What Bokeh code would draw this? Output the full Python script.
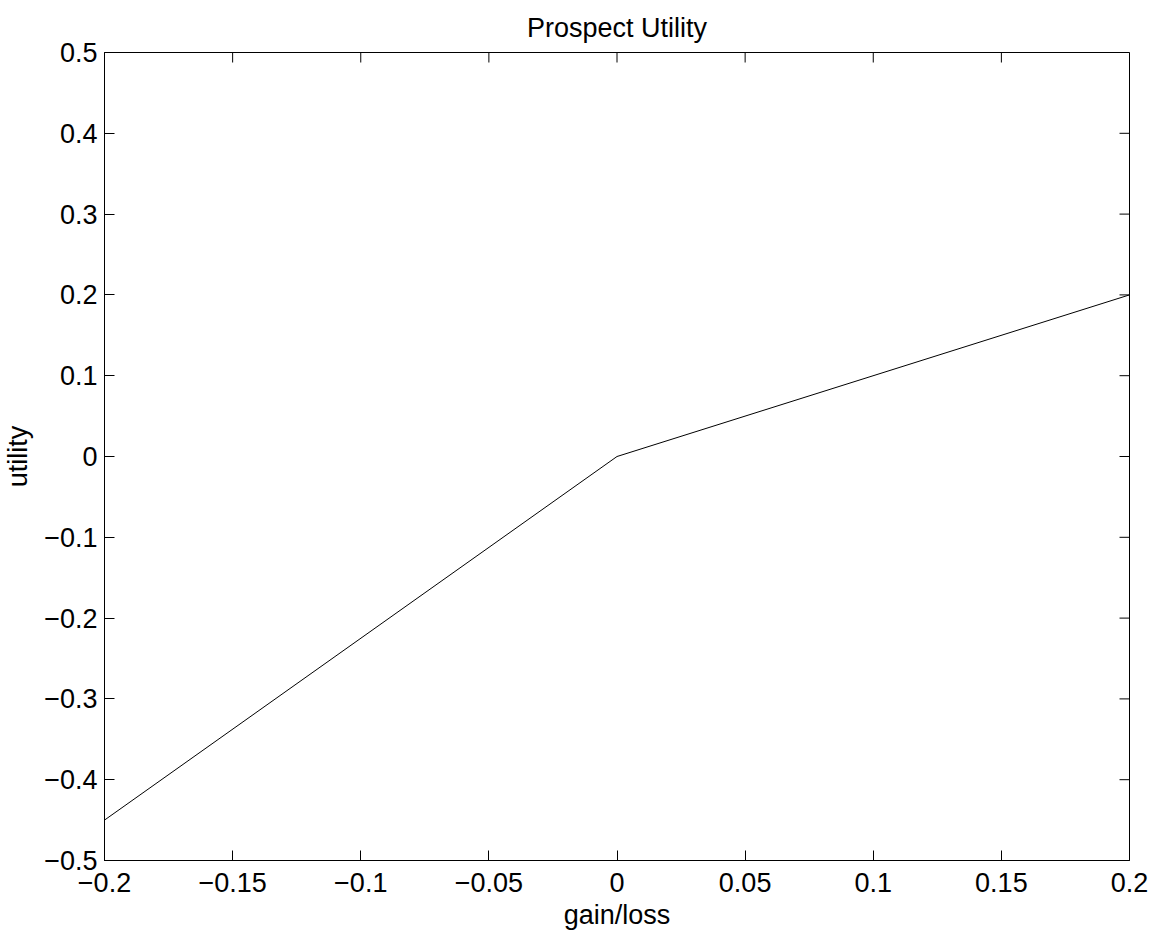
import math
from bokeh.plotting import figure
from bokeh.models import Range1d, FixedTicker
from bokeh.embed import file_html
from bokeh.resources import INLINE

# Data
gain_loss = [-0.2, 0.0, 0.2]
utility = [-0.45, 0.0, 0.2]

x_ticks = [-0.2, -0.15, -0.1, -0.05, 0.0, 0.05, 0.1, 0.15, 0.2]
x_tick_labels = ["\u22120.2", "\u22120.15", "\u22120.1", "\u22120.05", "0", "0.05", "0.1", "0.15", "0.2"]
y_ticks = [-0.5, -0.4, -0.3, -0.2, -0.1, 0.0, 0.1, 0.2, 0.3, 0.4, 0.5]
y_tick_labels = ["\u22120.5", "\u22120.4", "\u22120.3", "\u22120.2", "\u22120.1", "0", "0.1", "0.2", "0.3", "0.4", "0.5"]
x_lim = (-0.2, 0.2)
y_lim = (-0.5, 0.5)

FONT = "Liberation Sans"
TICK_SIZE = "27px"
LABEL_SIZE = "27px"

p = figure(width=1155, height=932,
           x_range=Range1d(*x_lim), y_range=Range1d(*y_lim),
           output_backend="svg", toolbar_location=None,
           min_border_left=102, min_border_right=26, min_border_top=52, min_border_bottom=71)

p.title.text = "Prospect Utility"
p.title.align = "center"
p.title.text_font = FONT
p.title.text_font_style = "normal"
p.title.text_font_size = LABEL_SIZE
p.title.text_color = "black"
p.title.standoff = 19

p.xgrid.visible = False
p.ygrid.visible = False
p.outline_line_color = "black"
p.outline_line_width = 1

p.line(gain_loss, utility, line_color="black", line_width=1)

# inward ticks on the top and right edges (mirroring the bottom/left axes)
p.ray(x=x_ticks, y=[y_lim[1]] * len(x_ticks), length=10, length_units="screen",
      angle=-math.pi / 2, line_color="black", line_width=1)
p.ray(x=[x_lim[1]] * len(y_ticks), y=y_ticks, length=10, length_units="screen",
      angle=math.pi, line_color="black", line_width=1)

def style(ax, ticks, labels):
    ax.ticker = FixedTicker(ticks=ticks)
    ax.minor_tick_line_color = None
    ax.major_tick_in = 10
    ax.major_tick_out = 0
    ax.major_tick_line_color = "black"
    ax.axis_line_color = "black"
    ax.axis_line_width = 1
    ax.major_label_overrides = dict(zip(ticks, labels))
    ax.major_label_text_font = FONT
    ax.major_label_text_font_size = TICK_SIZE
    ax.major_label_text_color = "black"
    ax.axis_label_text_font = FONT
    ax.axis_label_text_font_size = LABEL_SIZE
    ax.axis_label_text_font_style = "normal"
    ax.axis_label_text_color = "black"

xa = p.xaxis[0]
ya = p.yaxis[0]
style(xa, x_ticks, x_tick_labels)
style(ya, y_ticks, y_tick_labels)
xa.major_label_standoff = 12
ya.major_label_standoff = 7
xa.axis_label = "gain/loss"
ya.axis_label = "utility"
xa.axis_label_standoff = 5
ya.axis_label_standoff = 8

open("out.html", "w").write(file_html(p, INLINE))
